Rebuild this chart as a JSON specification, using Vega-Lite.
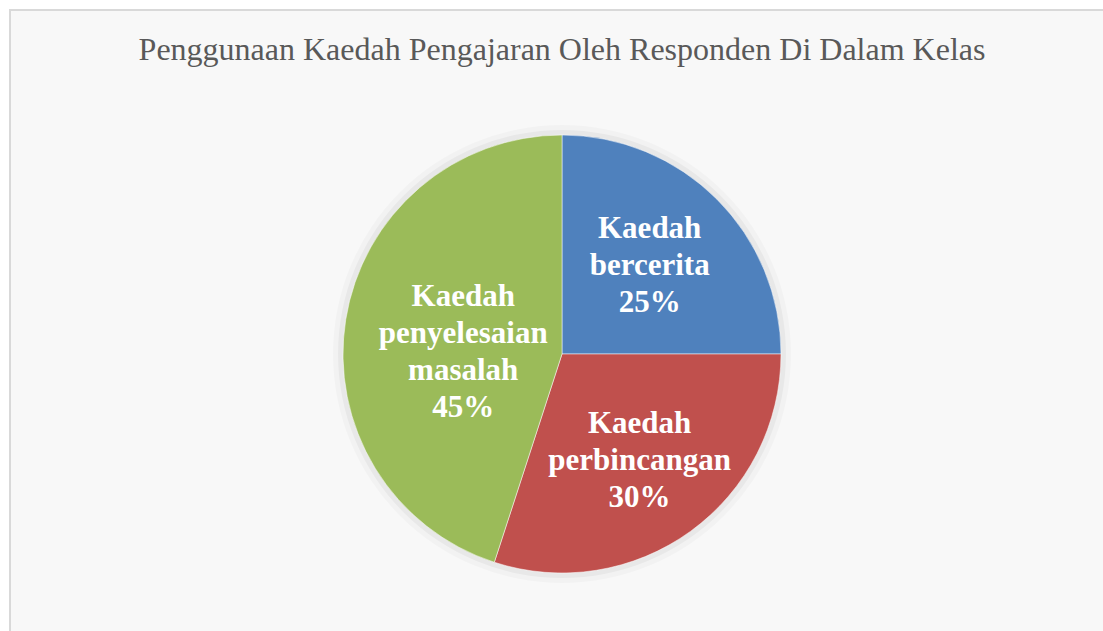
{
  "$schema": "https://vega.github.io/schema/vega-lite/v6.json",
  "autosize": "none",
  "padding": {"left": 10, "top": 10, "right": -11, "bottom": -67},
  "width": 1104,
  "height": 688,
  "background": "white",
  "view": {"stroke": "#d9d9d9", "strokeWidth": 2, "fill": "#f8f8f8"},
  "title": {
    "text": "Penggunaan Kaedah Pengajaran Oleh Responden Di Dalam Kelas",
    "font": "Liberation Serif",
    "fontSize": 32,
    "fontWeight": "normal",
    "color": "#595959",
    "anchor": "middle",
    "baseline": "alphabetic",
    "offset": -82
  },
  "datasets": {
    "slices": [
      {"kaedah": "Kaedah bercerita", "label": "Kaedah\nbercerita\n25%", "peratus": 25, "urutan": 1},
      {"kaedah": "Kaedah perbincangan", "label": "Kaedah\nperbincangan\n30%", "peratus": 30, "urutan": 2},
      {"kaedah": "Kaedah penyelesaian masalah", "label": "Kaedah\npenyelesaian\nmasalah\n45%", "peratus": 45, "urutan": 3}
    ]
  },
  "layer": [
    {
      "data": {"values": [{"ring": 1}]},
      "mark": {"type": "arc", "theta": 6.2832, "radius": 229, "fill": "#000000", "opacity": 0.025},
      "encoding": {}
    },
    {
      "data": {"values": [{"ring": 1}]},
      "mark": {"type": "arc", "theta": 6.2832, "radius": 224, "fill": "#000000", "opacity": 0.04},
      "encoding": {}
    },
    {
      "data": {"name": "slices"},
      "mark": {"type": "arc", "radius": 219, "stroke": "#ffffff", "strokeWidth": 0.5},
      "encoding": {
        "theta": {"field": "peratus", "type": "quantitative", "stack": true},
        "order": {"field": "urutan", "type": "quantitative"},
        "color": {
          "field": "kaedah",
          "type": "nominal",
          "scale": {
            "domain": ["Kaedah bercerita", "Kaedah perbincangan", "Kaedah penyelesaian masalah"],
            "range": ["#4f81bd", "#c0504d", "#9bbb59"]
          },
          "legend": null
        }
      }
    },
    {
      "data": {"name": "slices"},
      "mark": {
        "type": "text",
        "radius": {"expr": "datum.urutan == 1 ? 124 : (datum.urutan == 2 ? 132 : 100)"},
        "dy": {"expr": "-(length(split(datum.label, '\\n')) - 1) * 18.5 + (datum.urutan == 3 ? 14 : 0)"},
        "font": "Liberation Serif",
        "fontSize": 31,
        "fontWeight": "bold",
        "color": "#ffffff",
        "lineBreak": "\n",
        "lineHeight": 37,
        "align": "center",
        "baseline": "middle"
      },
      "encoding": {
        "theta": {"field": "peratus", "type": "quantitative", "stack": true},
        "order": {"field": "urutan", "type": "quantitative"},
        "text": {"field": "label", "type": "nominal"}
      }
    }
  ]
}
